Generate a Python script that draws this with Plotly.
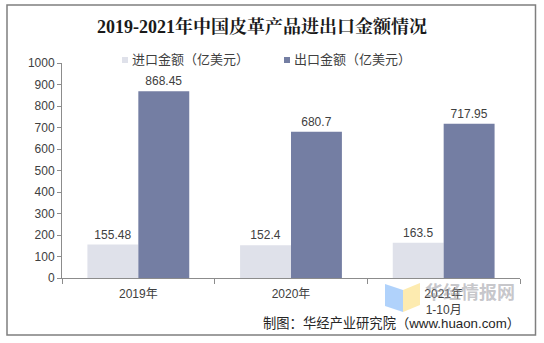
import plotly.graph_objects as go

# Data: China leather products import/export value (100 million USD)
categories = ["2019年", "2020年", "2021年<br>1-10月"]
import_values = [155.48, 152.4, 163.5]
export_values = [868.45, 680.7, 717.95]
import_labels = ["155.48", "152.4", "163.5"]
export_labels = ["868.45", "680.7", "717.95"]
series_names = ["进口金额（亿美元）", "出口金额（亿美元）"]
y_ticks = [0, 100, 200, 300, 400, 500, 600, 700, 800, 900, 1000]

import_color = "#dfe1ea"
export_color = "#747ea3"
text_color = "#404040"
font_family = "Arial, Liberation Sans, Noto Sans CJK SC, sans-serif"

# Plot area in pixels
L, R, T, B = 62, 520, 63, 278
W, H = R - L, B - T


def px(x):
    return (x - L) / W


def py(y):
    return (B - y) / H


fig = go.Figure()

fig.add_trace(go.Bar(
    x=categories, y=import_values, name=series_names[0],
    marker=dict(color=import_color, line=dict(width=0)),
    text=import_labels, textposition="outside",
    textfont=dict(size=12, color=text_color, family=font_family),
    cliponaxis=False, showlegend=False,
))
fig.add_trace(go.Bar(
    x=categories, y=export_values, name=series_names[1],
    marker=dict(color=export_color, line=dict(width=0)),
    text=export_labels, textposition="outside",
    textfont=dict(size=12, color=text_color, family=font_family),
    cliponaxis=False, showlegend=False,
))

fig.update_layout(
    width=544, height=343,
    margin=dict(l=L, r=544 - R, t=T, b=343 - B),
    paper_bgcolor="white", plot_bgcolor="white",
    barmode="group", bargap=0.333, bargroupgap=0,
    font=dict(family=font_family, size=12, color=text_color),
    showlegend=False,
    title=dict(
        text="<b>2019-2021年中国皮革产品进出口金额情况</b>",
        x=262 / 544, xanchor="center", y=1 - 27 / 343, yanchor="middle",
        font=dict(family="Liberation Serif, Noto Serif CJK SC, Noto Sans CJK SC, serif",
                  size=18, color="#1a1a1a"),
    ),
    xaxis=dict(
        showline=True, linecolor="#8c8c8c", linewidth=1,
        ticks="outside", tickson="boundaries", ticklen=5, tickcolor="#8c8c8c",
        ticklabelstandoff=5,
        tickfont=dict(size=12, color=text_color), showgrid=False,
    ),
    yaxis=dict(
        range=[0, 1000], tickvals=y_ticks,
        showline=True, linecolor="#8c8c8c", linewidth=1,
        ticks="outside", ticklen=4, tickcolor="#8c8c8c",
        tickfont=dict(size=12, color=text_color), showgrid=False, zeroline=False,
    ),
)

# Legend: small squares followed by series names
legend_x = [122, 284]
for name, color, x0 in zip(series_names, [import_color, export_color], legend_x):
    fig.add_shape(type="rect", xref="paper", yref="paper",
                  x0=px(x0), x1=px(x0 + 6), y0=py(63), y1=py(57),
                  fillcolor=color, line=dict(width=0))
    fig.add_annotation(xref="paper", yref="paper", x=px(x0 + 8), y=py(60),
                       xanchor="left", yanchor="middle", text=name, showarrow=False,
                       font=dict(size=13, color=text_color))

# Outer frame
fig.add_shape(type="rect", xref="paper", yref="paper",
              x0=px(7), x1=px(535.5), y0=py(335), y1=py(5),
              line=dict(color="#7f7f7f", width=1.5), layer="below")

# Watermark logo (drawn beneath the axis labels)
fig.add_shape(type="path", xref="paper", yref="paper", layer="below",
              path=f"M{px(385)},{py(284)} L{px(403)},{py(290)} L{px(403)},{py(312)} L{px(385)},{py(306)} Z",
              fillcolor="rgba(150,195,250,0.75)", line=dict(width=0))
fig.add_shape(type="path", xref="paper", yref="paper", layer="below",
              path=f"M{px(403)},{py(290)} L{px(420)},{py(283)} L{px(420)},{py(305)} L{px(403)},{py(312)} Z",
              fillcolor="rgba(252,228,150,0.75)", line=dict(width=0))
fig.add_annotation(xref="paper", yref="paper", x=px(470), y=py(291),
                   xanchor="center", yanchor="middle",
                   text="<b>华经情报网</b>", showarrow=False,
                   font=dict(size=18, color="rgba(150,150,158,0.55)",
                             family="Noto Sans CJK SC"))

# Source note
fig.add_annotation(xref="paper", yref="paper", x=px(522), y=py(323),
                   xanchor="right", yanchor="middle",
                   text="制图：华经产业研究院（www.huaon.com）", showarrow=False,
                   font=dict(size=13.3, color="#262626"))

fig.write_html("out.html")
